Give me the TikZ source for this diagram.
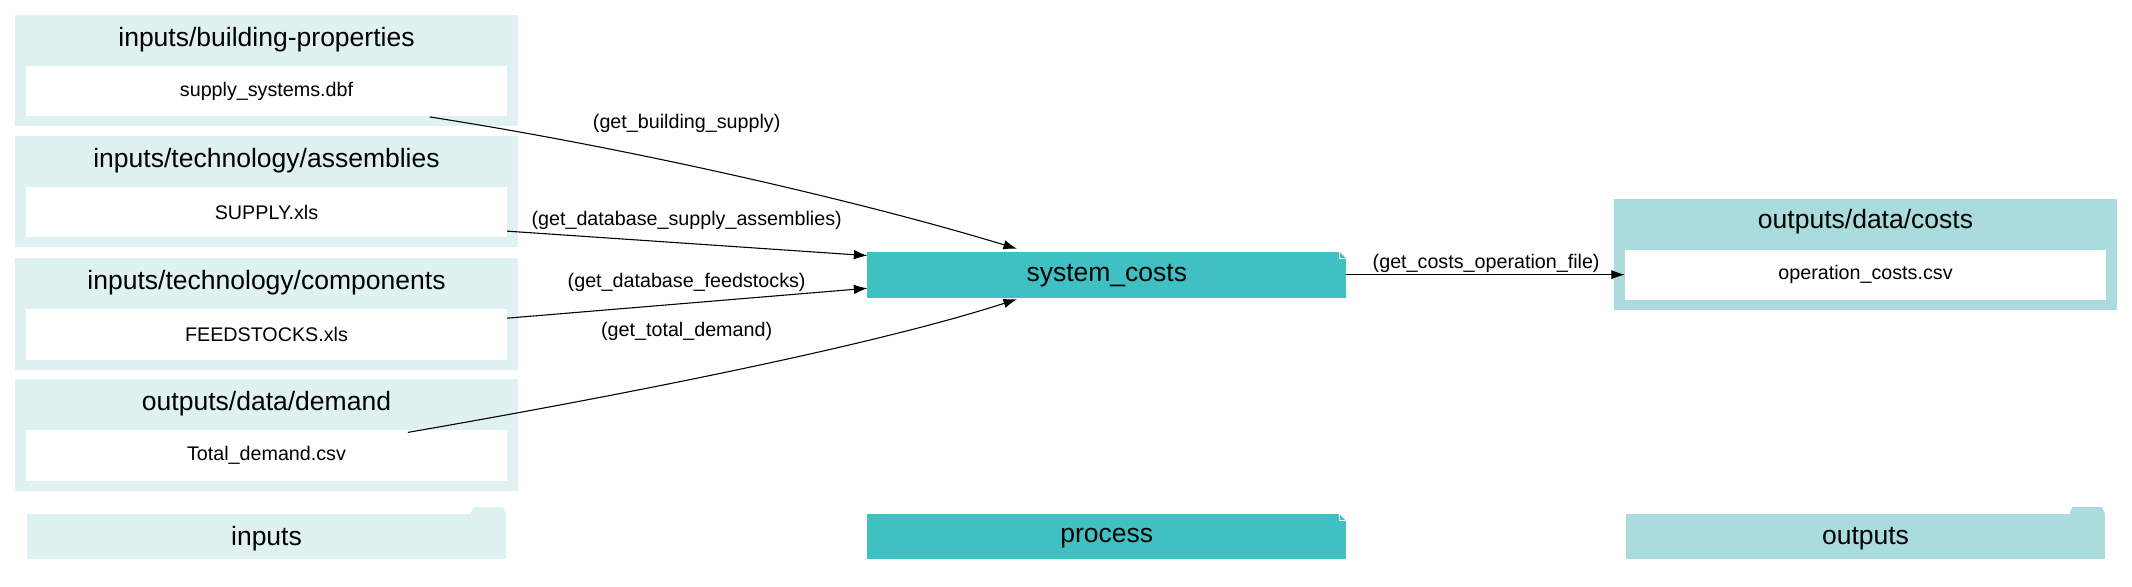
\documentclass[tikz,border=0pt]{standalone}
\usepackage{fontspec}
\setmainfont{Liberation Sans}
\usetikzlibrary{arrows.meta}
\definecolor{inpc}{HTML}{E0F1F1}
\definecolor{proc}{HTML}{3FC0C2}
\definecolor{outc}{HTML}{AADCDD}
\tikzset{
 clus/.style={fill=#1, draw=none},
 ttl/.style={font=\fontsize{19.5}{19.5}\selectfont, anchor=center},
 file/.style={fill=white, draw=none, minimum width=354pt, minimum height=37pt, font=\fontsize{14.5}{14.5}\selectfont},
 elab/.style={font=\fontsize{14.5}{14.5}\selectfont},
 edge/.style={-{Latex[length=10pt,width=7pt]}, line width=0.8pt},
 big/.style={font=\fontsize{19.5}{19.5}\selectfont},
}
\begin{document}
\begin{tikzpicture}[x=1pt,y=-1pt]
\useasboundingbox (0,0) rectangle (1568,431);
\foreach \i/\t/\f/\y in {1/inputs\slash building-properties/supply\_systems.dbf/11,
  2/inputs\slash technology\slash assemblies/SUPPLY.xls/100,
  3/inputs\slash technology\slash components/FEEDSTOCKS.xls/190,
  4/outputs\slash data\slash demand/Total\_demand.csv/279}{
  \fill[inpc] (11,\y) rectangle (381,\y+82);
  \node[ttl] (t\i) at (196,\y+18) {\t};
  \node[file] (f\i) at (196,\y+56) {\f};
}
\fill[proc] (638,185) rectangle (990,219);
\fill[white] (985,185) -- (990,185) -- (990,190) -- cycle;
\draw[white, line width=0.6pt] (985,185) -- (985,190) -- (990,190);
\node[big, minimum width=352pt, minimum height=34pt] (sc) at (814,203) {system\_costs};
\fill[outc] (1187,146) rectangle (1557,228);
\node[ttl] (to) at (1372,163) {outputs\slash data\slash costs};
\node[file] (fo) at (1372,202) {operation\_costs.csv};
\draw[edge] (316,86) .. controls (470,110) and (640,150) .. (748,183);
\node[elab] (l1) at (505,91) {(get\_building\_supply)};
\draw[edge] (373,170) -- (638,188);
\node[elab] (l2) at (505,162) {(get\_database\_supply\_assemblies)};
\draw[edge] (373,234) -- (638,212);
\node[elab] (l3) at (505,208) {(get\_database\_feedstocks)};
\draw[edge] (300,318) .. controls (450,292) and (640,255) .. (748,220);
\node[elab] (l4) at (505,244) {(get\_total\_demand)};
\draw[edge] (990,202) -- (1195,202);
\node[elab] (l5) at (1093,194) {(get\_costs\_operation\_file)};
\fill[inpc] (20,378) rectangle (372,411);
\fill[inpc] (346,378) -- (348,373) -- (370,373) -- (372,378) -- cycle;
\node[big] (li) at (196,396) {inputs};
\fill[proc] (638,378) rectangle (990,411);
\fill[white] (985,378) -- (990,378) -- (990,383) -- cycle;
\draw[white, line width=0.6pt] (985,378) -- (985,383) -- (990,383);
\node[big] (lp) at (814,396) {process};
\fill[outc] (1196,378) rectangle (1548,411);
\fill[outc] (1522,378) -- (1524,373) -- (1546,373) -- (1548,378) -- cycle;
\node[big] (lo) at (1372,396) {outputs};
\end{tikzpicture}
\end{document}
